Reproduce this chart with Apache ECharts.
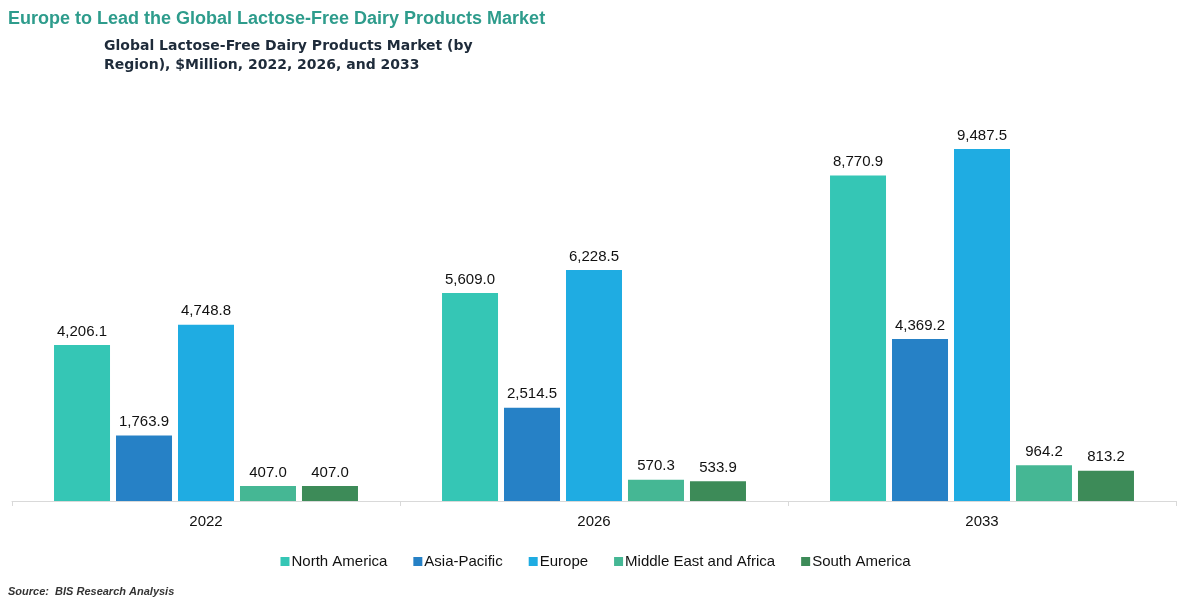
<!DOCTYPE html>
<html>
<head>
<meta charset="utf-8">
<script src="https://cdn.jsdelivr.net/npm/echarts@6/dist/echarts.min.js"></script>
<style>
html,body{margin:0;padding:0;background:#fff;}
#chart{width:1191px;height:612px;}
</style>
</head>
<body>
<div id="chart"></div>
<script>
const years = ['2022', '2026', '2033'];
const northAmerica = [4206.1, 5609.0, 8770.9];
const asiaPacific = [1763.9, 2514.5, 4369.2];
const europe = [4748.8, 6228.5, 9487.5];
const middleEastAfrica = [407.0, 570.3, 964.2];
const southAmerica = [407.0, 533.9, 813.2];

const seriesDefs = [
  { name: 'North America', data: northAmerica, color: '#35C6B5' },
  { name: 'Asia-Pacific', data: asiaPacific, color: '#2681C6' },
  { name: 'Europe', data: europe, color: '#1FACE2' },
  { name: 'Middle East and Africa', data: middleEastAfrica, color: '#45B794' },
  { name: 'South America', data: southAmerica, color: '#3D8B58' }
];

const chart = echarts.init(document.getElementById('chart'), null, { renderer: 'canvas' });
const fmt = v => v.toLocaleString('en-US', { minimumFractionDigits: 1, maximumFractionDigits: 1 });

chart.setOption({
  backgroundColor: '#ffffff',
  animation: false,
  title: [
    {
      text: 'Europe to Lead the Global Lactose-Free Dairy Products Market',
      left: 3, top: 5,
      textStyle: { fontFamily: 'Liberation Sans, Arial', fontWeight: 'bold', fontSize: 18, color: '#2E9C8C' }
    },
    {
      text: 'Global Lactose-Free Dairy Products Market (by\nRegion), $Million, 2022, 2026, and 2033',
      left: 99, top: 32,
      textStyle: { fontFamily: 'DejaVu Sans', fontWeight: 'bold', fontSize: 14, lineHeight: 19, color: '#1E2B3A' }
    },
    {
      text: 'Source:  BIS Research Analysis',
      left: 3, top: 581,
      textStyle: { fontFamily: 'Liberation Sans, Arial', fontWeight: 'bold', fontStyle: 'italic', fontSize: 11, color: '#333' }
    }
  ],
  legend: {
    bottom: 38, left: 'center',
    itemWidth: 9, itemHeight: 9, itemGap: 26,
    icon: 'rect',
    textStyle: { fontFamily: 'Liberation Sans, Arial', fontSize: 15, color: '#111', padding: [0, 0, 0, -3] },
    data: seriesDefs.map(s => s.name)
  },
  grid: { left: 12, right: 15, top: 130, bottom: 111, containLabel: false },
  xAxis: {
    type: 'category',
    data: years,
    axisLine: { lineStyle: { color: '#d9d9d9', width: 1 } },
    axisTick: { show: true, length: 5, lineStyle: { color: '#d9d9d9' } },
    axisLabel: { fontFamily: 'Liberation Sans, Arial', fontSize: 15, color: '#111', margin: 13 }
  },
  yAxis: {
    type: 'value', min: 0, max: 10000,
    show: false,
    splitLine: { show: false }
  },
  series: seriesDefs.map(s => ({
    name: s.name,
    type: 'bar',
    data: s.data,
    barWidth: 56,
    barGap: '10.7%',
    itemStyle: { color: s.color },
    label: {
      show: true, position: 'top', distance: 6,
      formatter: p => fmt(p.value),
      fontFamily: 'Liberation Sans, Arial', fontSize: 15, color: '#111'
    }
  }))
});
</script>
</body>
</html>
